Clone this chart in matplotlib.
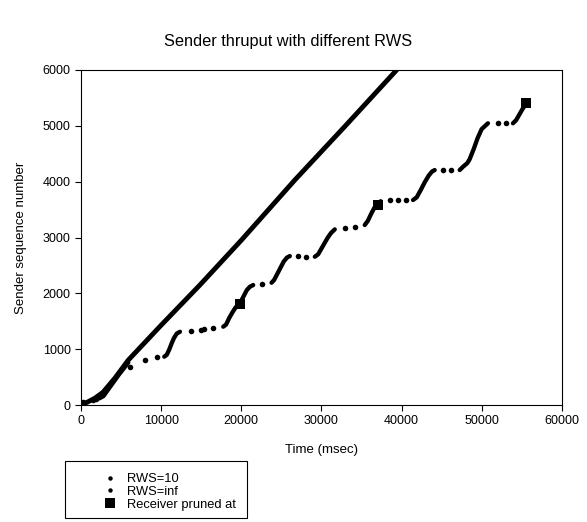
import numpy as np
import matplotlib
matplotlib.use('Agg')
from matplotlib import pyplot as plt
from matplotlib.lines import Line2D
from matplotlib.patches import Rectangle

plt.rcParams['font.family'] = ['Liberation Sans', 'DejaVu Sans']

nan = np.nan

# RWS=inf: one straight, thick run of points
inf_t = [0, 900, 1750, 2750, 4240, 5900, 10000, 14840, 20000, 26690, 33000, 39400]
inf_seq = [0, 60, 125, 230, 484, 805, 1430, 2150, 2950, 4030, 5000, 6000]

# RWS=10: dense runs (drawn solid), nan separates the runs
rws10_run_t = [2300, 2800, 3300, 4000, 4700, 5300, 5900, nan,
               10390, 10700, 11000, 11300, 11600, 11950, 12350, nan,
               17750, 18100, 18500, 18900, 19300, 19830, 20300, 20700, 21080, 21490, nan,
               23780, 24100, 24500, 24900, 25300, 25700, 26060, nan,
               29180, 29600, 30000, 30400, 30800, 31200, 31670, nan,
               35410, 35800, 36200, 36600, 37080, 37400, nan,
               41440, 41900, 42400, 42900, 43400, 43800, 44140, nan,
               47260, 47700, 48200, 48500, 49000, 49500, 50000, 50790, nan,
               53910, 54300, 54700, 55100, 55580]
rws10_run_seq = [120, 160, 260, 400, 540, 650, 760, nan,
                 866, 900, 990, 1100, 1200, 1280, 1313, nan,
                 1403, 1440, 1560, 1660, 1750, 1821, 1950, 2060, 2119, 2149, nan,
                 2190, 2240, 2350, 2460, 2570, 2640, 2668, nan,
                 2656, 2700, 2800, 2900, 3000, 3080, 3146, nan,
                 3223, 3300, 3420, 3530, 3590, 3650, nan,
                 3671, 3720, 3850, 3990, 4110, 4180, 4208, nan,
                 4208, 4270, 4330, 4400, 4580, 4780, 4940, 5045, nan,
                 5045, 5100, 5200, 5300, 5400]

# RWS=10: sparse points on the plateaus
rws10_dot_t = [0, 300, 1500, 1900, 6100, 7980, 9440, 13700, 15000, 15400, 16500,
               22530, 27100, 28140, 32920, 34200, 38530, 39570, 40610,
               45180, 46220, 52040, 53000]
rws10_dot_seq = [20, 50, 90, 110, 680, 805, 855, 1335, 1345, 1360, 1385,
                 2167, 2668, 2656, 3170, 3193, 3671, 3671, 3671,
                 4208, 4208, 5045, 5045]

pruned_t = [19830, 37080, 55580]
pruned_seq = [1810, 3582, 5400]

fig = plt.figure(figsize=(5.87, 5.22), dpi=100)
ax = fig.add_axes([0.138, 0.224, 0.819, 0.642])

ax.plot(inf_t, inf_seq, color='k', lw=3.5, solid_capstyle='round')
ax.plot(rws10_run_t, rws10_run_seq, color='k', lw=3.1, solid_capstyle='round')
ax.plot(rws10_dot_t, rws10_dot_seq, 'o', color='k', ms=4.0, mew=0)
ax.plot(pruned_t, pruned_seq, 's', color='k', ms=7.5, mew=0)

ax.set_xlim(0, 60000)
ax.set_ylim(0, 6000)
ax.set_xticks(np.arange(0, 60001, 10000))
ax.set_yticks(np.arange(0, 6001, 1000))
ax.tick_params(direction='out', length=4, width=0.8, labelsize=9, top=False, right=False)
for s in ax.spines.values():
    s.set_linewidth(0.8)

ax.set_xlabel('Time (msec)', fontsize=9.5, labelpad=12)
ax.set_ylabel('Sender sequence number', fontsize=9.5, labelpad=11)
fig.suptitle('Sender thruput with different RWS', x=0.49, y=0.935, fontsize=11.8)

handles = [Line2D([], [], ls='none', marker='o', color='k', ms=3.2, mew=0),
           Line2D([], [], ls='none', marker='o', color='k', ms=3.2, mew=0),
           Line2D([], [], ls='none', marker='s', color='k', ms=7, mew=0)]
fig.legend(handles, ['RWS=10', 'RWS=inf', 'Receiver pruned at'],
           loc='lower left', bbox_to_anchor=(0.175, 0.022), frameon=False,
           fontsize=9.3, handlelength=1.2, handletextpad=0.7, labelspacing=0.05,
           borderpad=0, borderaxespad=0)
fig.patches.append(Rectangle((0.111, 0.008), 0.310, 0.109, transform=fig.transFigure,
                             fill=False, edgecolor='k', lw=0.8))

fig.savefig('out.png', dpi=100)
